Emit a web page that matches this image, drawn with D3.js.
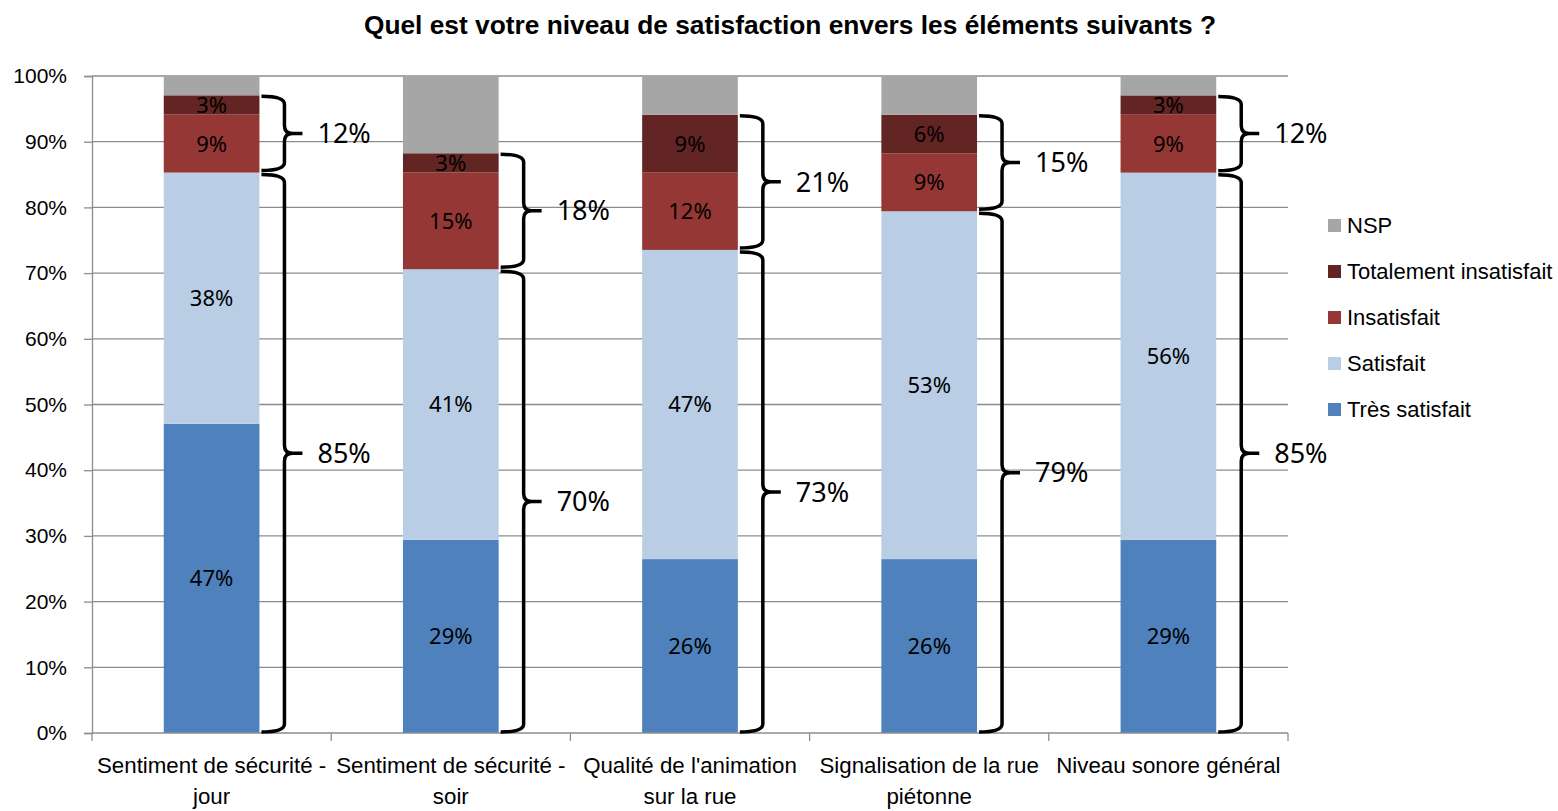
<!DOCTYPE html>
<html>
<head>
<meta charset="utf-8">
<script src="https://cdn.jsdelivr.net/npm/d3@7"></script>
<style>
  body { margin: 0; background: #fff; }
  .narrow { font-family: "Liberation Sans Narrow", "Arial Narrow", "Liberation Sans", Arial, sans-serif; }
  .lbl { font-family: "Noto Sans", "Open Sans", sans-serif; }
</style>
</head>
<body>
<div class="visHolder"></div>
<script>
var width = 1558,
    height = 811;

var categories = ["Sentiment de sécurité - jour", "Sentiment de sécurité - soir", "Qualité de l'animation sur la rue", "Signalisation de la rue piétonne", "Niveau sonore général"];
var catLines = [["Sentiment de sécurité -", "jour"], ["Sentiment de sécurité -", "soir"], ["Qualité de l'animation", "sur la rue"], ["Signalisation de la rue", "piétonne"], ["Niveau sonore général"]];

// percentages, bottom to top
var tresSatisfait = [47.06, 29.41, 26.47, 26.47, 29.41];
var satisfait = [38.24, 41.18, 47.06, 52.94, 55.88];
var insatisfait = [8.82, 14.71, 11.76, 8.82, 8.82];
var totInsatisfait = [2.94, 2.94, 8.82, 5.88, 2.94];
var nsp = [2.94, 11.76, 5.88, 5.88, 2.94];

var seriesNames = ["Très satisfait", "Satisfait", "Insatisfait", "Totalement insatisfait", "NSP"];
var seriesColors = ["#4f81bd", "#b9cde5", "#953735", "#632523", "#a6a6a6"];
var yTicks = [0, 10, 20, 30, 40, 50, 60, 70, 80, 90, 100];

var margin = {left: 92, right: 270, top: 76, bottom: 78};
var plotW = width - margin.left - margin.right;   // 1196
var plotH = height - margin.top - margin.bottom;  // 657

var svg = d3.select(".visHolder")
            .append("svg")
            .attr("width", width)
            .attr("height", height);

svg.append("text")
   .attr("class", "narrow")
   .attr("x", 790)
   .attr("y", 34)
   .attr("text-anchor", "middle")
   .style("font-size", "26.3px")
   .style("font-weight", "bold")
   .text("Quel est votre niveau de satisfaction envers les éléments suivants ?");

var g = svg.append("g").attr("transform", "translate(" + margin.left + "," + margin.top + ")");

var xScale = d3.scaleBand()
               .domain(categories)
               .range([0, plotW])
               .paddingInner(0.6)
               .paddingOuter(0.3);

var yScale = d3.scaleLinear().domain([0, 100]).range([plotH, 0]);

// grid
g.selectAll(".grid")
 .data(yTicks.slice(1))
 .enter()
 .append("line")
 .attr("x1", 0)
 .attr("x2", plotW)
 .attr("y1", function (d) { return yScale(d); })
 .attr("y2", function (d) { return yScale(d); })
 .attr("stroke", "#8c8c8c")
 .attr("stroke-width", 1.3);

// y axis
var yAxis = d3.axisLeft(yScale)
              .tickValues(yTicks)
              .tickSize(8)
              .tickPadding(17)
              .tickFormat(function (d) { return d + "%"; });

var yG = g.append("g").call(yAxis);
yG.selectAll("path, line").attr("stroke", "#8c8c8c").attr("stroke-width", 1.3);
yG.selectAll("text").attr("class", "narrow").style("font-size", "21px").attr("fill", "#000");

// stacked data
var rows = categories.map(function (c, i) {
  return {cat: c, s0: tresSatisfait[i], s1: satisfait[i], s2: insatisfait[i], s3: totInsatisfait[i], s4: nsp[i]};
});
var stack = d3.stack().keys(["s0", "s1", "s2", "s3", "s4"]);
var layers = stack(rows);

var layerG = g.selectAll(".layer")
              .data(layers)
              .enter()
              .append("g")
              .attr("fill", function (d, i) { return seriesColors[i]; });

layerG.selectAll("rect")
      .data(function (d) { return d; })
      .enter()
      .append("rect")
      .attr("x", function (d) { return xScale(d.data.cat); })
      .attr("y", function (d) { return yScale(d[1]); })
      .attr("width", xScale.bandwidth())
      .attr("height", function (d) { return yScale(d[0]) - yScale(d[1]); });

// value labels (not for NSP)
layers.slice(0, 4).forEach(function (layer) {
  g.selectAll(null)
   .data(layer)
   .enter()
   .append("text")
   .attr("class", "lbl")
   .attr("x", function (d) { return xScale(d.data.cat) + xScale.bandwidth() / 2; })
   .attr("y", function (d) { return yScale((d[0] + d[1]) / 2); })
   .attr("dy", "0.36em")
   .attr("text-anchor", "middle")
   .style("font-size", "22px")
   .attr("fill", "#000")
   .text(function (d) { return Math.round(d[1] - d[0]) + "%"; });
});

// x axis
g.append("line")
 .attr("x1", 0).attr("x2", plotW)
 .attr("y1", plotH).attr("y2", plotH)
 .attr("stroke", "#8c8c8c").attr("stroke-width", 1.3);

var step = xScale.step();
g.selectAll(".xtick")
 .data(d3.range(categories.length + 1))
 .enter()
 .append("line")
 .attr("x1", function (d) { return d * step; })
 .attr("x2", function (d) { return d * step; })
 .attr("y1", plotH)
 .attr("y2", plotH + 8)
 .attr("stroke", "#8c8c8c").attr("stroke-width", 1.3);

categories.forEach(function (c, i) {
  var t = g.append("text")
           .attr("class", "narrow")
           .attr("x", xScale(c) + xScale.bandwidth() / 2)
           .attr("y", plotH + 40)
           .attr("text-anchor", "middle")
           .style("font-size", "22.3px")
           .attr("fill", "#000");
  catLines[i].forEach(function (line, j) {
    t.append("tspan")
     .attr("x", xScale(c) + xScale.bandwidth() / 2)
     .attr("dy", j === 0 ? 0 : 31)
     .text(line);
  });
});

// braces
function bracePath(x0, yTop, yBot) {
  var x1 = x0 + 23, r = 8, ym = (yTop + yBot) / 2, tip = x1 + 18;
  return "M" + x0 + "," + yTop +
         " Q" + x1 + "," + yTop + " " + x1 + "," + (yTop + r) +
         " L" + x1 + "," + (ym - r) +
         " Q" + x1 + "," + ym + " " + (x1 + r) + "," + ym +
         " L" + tip + "," + ym +
         " M" + (x1 + r) + "," + ym +
         " Q" + x1 + "," + ym + " " + x1 + "," + (ym + r) +
         " L" + x1 + "," + (yBot - r) +
         " Q" + x1 + "," + yBot + " " + x0 + "," + yBot;
}

rows.forEach(function (d, i) {
  var x0 = xScale(d.cat) + xScale.bandwidth() + 2;
  var satTop = d.s0 + d.s1;
  var insTop = satTop + d.s2 + d.s3;
  // totals shown are sums of the rounded labels
  var groups = [
    {top: yScale(satTop) + 2, bot: yScale(0) - 1, val: Math.round(d.s0) + Math.round(d.s1)},
    {top: yScale(insTop) + 1, bot: yScale(satTop) - 2, val: Math.round(d.s2) + Math.round(d.s3)}
  ];
  groups.forEach(function (b) {
    g.append("path")
     .attr("d", bracePath(x0, b.top, b.bot))
     .attr("fill", "none")
     .attr("stroke", "#000")
     .attr("stroke-width", 3.5);
    g.append("text")
     .attr("class", "lbl")
     .attr("x", x0 + 56)
     .attr("y", (b.top + b.bot) / 2)
     .attr("dy", "0.36em")
     .style("font-size", "27px")
     .attr("fill", "#000")
     .text(b.val + "%");
  });
});

// legend
var legend = svg.append("g").attr("transform", "translate(1328,225)");
var legendOrder = [4, 3, 2, 1, 0];
legendOrder.forEach(function (k, j) {
  legend.append("rect")
        .attr("x", 0)
        .attr("y", j * 46 - 6)
        .attr("width", 13)
        .attr("height", 13)
        .attr("fill", seriesColors[k]);
  legend.append("text")
        .attr("class", "narrow")
        .attr("x", 19)
        .attr("y", j * 46)
        .attr("dy", "0.36em")
        .style("font-size", "22px")
        .attr("fill", "#000")
        .text(seriesNames[k]);
});
</script>
</body>
</html>
